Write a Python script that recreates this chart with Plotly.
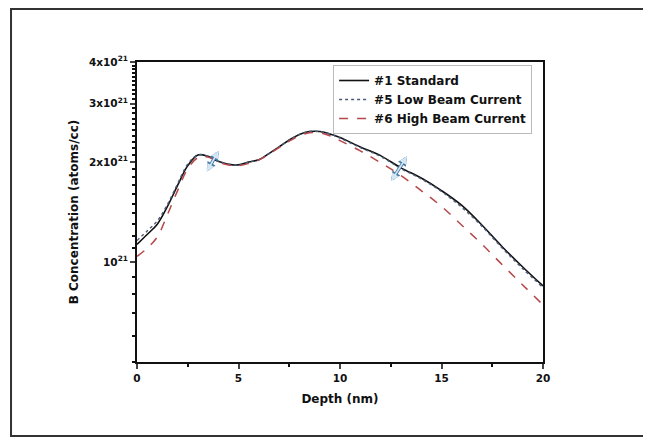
import math
import plotly.graph_objects as go

# Depth (nm)
depth = [0, 0.5, 1, 1.5, 2, 2.5, 3, 3.5, 4, 4.5, 5, 5.5, 6, 6.5, 7, 7.5, 8, 8.5, 9, 9.5,
         10, 11, 12, 13, 14, 15, 16, 17, 18, 19, 20]

# B concentration (atoms/cc)
std = [1.13e21, 1.21e21, 1.30e21, 1.47e21, 1.70e21, 1.95e21, 2.10e21, 2.08e21, 2.01e21, 1.97e21,
       1.96e21, 2.00e21, 2.03e21, 2.12e21, 2.22e21, 2.33e21, 2.42e21, 2.47e21, 2.47e21, 2.43e21,
       2.37e21, 2.22e21, 2.09e21, 1.92e21, 1.79e21, 1.64e21, 1.48e21, 1.29e21, 1.11e21, 0.966e21, 0.847e21]
low = [1.16e21, 1.24e21, 1.33e21, 1.49e21, 1.72e21, 1.97e21, 2.10e21, 2.08e21, 2.01e21, 1.97e21,
       1.96e21, 2.00e21, 2.03e21, 2.12e21, 2.22e21, 2.33e21, 2.42e21, 2.47e21, 2.47e21, 2.43e21,
       2.36e21, 2.21e21, 2.08e21, 1.91e21, 1.78e21, 1.63e21, 1.46e21, 1.28e21, 1.10e21, 0.955e21, 0.838e21]
high = [1.04e21, 1.10e21, 1.19e21, 1.39e21, 1.64e21, 1.91e21, 2.06e21, 2.07e21, 2.00e21, 1.96e21,
        1.95e21, 1.98e21, 2.03e21, 2.11e21, 2.21e21, 2.31e21, 2.40e21, 2.45e21, 2.45e21, 2.40e21,
        2.32e21, 2.16e21, 1.99e21, 1.82e21, 1.64e21, 1.47e21, 1.29e21, 1.13e21, 0.98e21, 0.853e21, 0.743e21]

names = ["#1 Standard", "#5 Low Beam Current", "#6 High Beam Current"]

x_tickvals = [0, 5, 10, 15, 20]
x_minor = [2.5, 7.5, 12.5, 17.5]
y_tickvals = [1e21, 2e21, 3e21, 4e21]
y_ticktext = ["10<sup>21</sup>", "2x10<sup>21</sup>", "3x10<sup>21</sup>", "4x10<sup>21</sup>"]
y_minor = [k * 1e20 for k in range(5, 41)]

# decorative double arrows: (depth, concentration) of the upper-right tip
arrow_tips = [(4.02, 2.16e21), (13.3, 2.08e21)]
arrow_offsets = [(-12, 21), (-16, 25)]

FONT = "DejaVu Sans, Verdana, sans-serif"

fig = go.Figure()
fig.add_trace(go.Scatter(x=depth, y=std, mode="lines", name=names[0],
                         line=dict(color="#111111", width=1.6, shape="spline")))
fig.add_trace(go.Scatter(x=depth, y=low, mode="lines", name=names[1],
                         line=dict(color="#4a5a78", width=1.4, dash="dot", shape="spline")))
fig.add_trace(go.Scatter(x=depth, y=high, mode="lines", name=names[2],
                         line=dict(color="#b5474a", width=1.5, dash="dash", shape="spline")))

for (tx, ty), (ox, oy) in zip(arrow_tips, arrow_offsets):
    for col, w, s in [("#4a7ba6", 3.4, 0.55), ("#d4e7f5", 1.6, 0.95)]:
        fig.add_annotation(x=tx, y=math.log10(ty), xref="x", yref="y", ax=ox, ay=oy, showarrow=True,
                           arrowhead=2, arrowside="end+start", arrowsize=s, arrowwidth=w,
                           arrowcolor=col, text="", font=dict(size=1), borderpad=0,
                           standoff=0, startstandoff=0)

fig.update_layout(
    width=643, height=429,
    margin=dict(l=129, r=108, t=54, b=75),
    paper_bgcolor="white", plot_bgcolor="white",
    font=dict(family=FONT, size=10, color="#111111", weight="bold"),
    showlegend=True,
    legend=dict(x=0.483, y=0.99, xanchor="left", yanchor="top", bgcolor="white",
                bordercolor="#bbbbbb", borderwidth=1, font=dict(size=12, family=FONT, weight="bold"),
                tracegroupgap=0, itemwidth=30),
    shapes=[dict(type="rect", xref="paper", yref="paper", x0=-0.3103, x1=1.2586, y0=-0.2467, y1=1.1767,
                 line=dict(color="#333333", width=2), fillcolor="rgba(0,0,0,0)", layer="below")],
)
fig.update_xaxes(range=[0, 20], tickvals=x_tickvals, ticks="outside", ticklen=5, tickwidth=2,
                 showline=True, linecolor="#111111", linewidth=2, mirror=True, showgrid=False, zeroline=False,
                 minor=dict(tickvals=x_minor, ticks="outside", ticklen=3, tickwidth=2, tickcolor="#111111"),
                 tickfont=dict(size=10.5, family=FONT, weight="bold"),
                 title=dict(text="Depth (nm)", font=dict(size=12, family=FONT, weight="bold"), standoff=12))
fig.update_yaxes(type="log", range=[math.log10(5e20), math.log10(4e21)], tickvals=y_tickvals, ticktext=y_ticktext,
                 ticks="outside", ticklen=5, tickwidth=2,
                 showline=True, linecolor="#111111", linewidth=2, mirror=True, showgrid=False, zeroline=False,
                 minor=dict(tickvals=y_minor, ticks="outside", ticklen=3, tickwidth=1.5, tickcolor="#111111"),
                 tickfont=dict(size=10.5, family=FONT, weight="bold"),
                 title=dict(text="B Concentration (atoms/cc)", font=dict(size=12, family=FONT, weight="bold"),
                            standoff=8))

fig.write_html("out.html")
